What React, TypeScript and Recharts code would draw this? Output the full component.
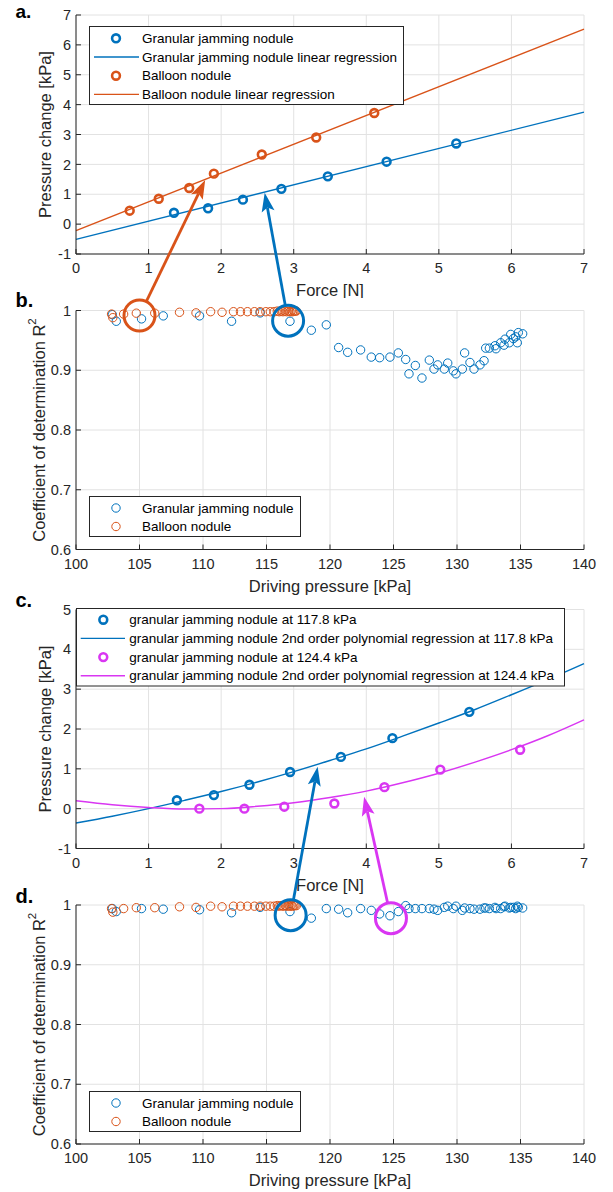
import React from 'react';
import { ComposedChart, Scatter, Line, XAxis, YAxis, CartesianGrid, Legend } from 'recharts';

const BLUE = '#0072BD';
const ORANGE = '#D95319';
const MAGENTA = '#D936F2';
const INK = '#262626';
const GRID = '#e2e2e2';
const FONT = '"Liberation Sans", Arial, Helvetica, sans-serif';

// a. force vs pressure change, linear regression
const forceGranular = [1.35, 1.82, 2.3, 2.83, 3.47, 4.28, 5.24];
const dpGranular = [0.38, 0.53, 0.82, 1.18, 1.6, 2.09, 2.7];
const forceBalloon = [0.74, 1.14, 1.56, 1.9, 2.56, 3.31, 4.11];
const dpBalloon = [0.45, 0.85, 1.21, 1.69, 2.33, 2.9, 3.72];
const fitForce = [0, 7];
const fitGranular = [-0.51, 3.75];
const fitBalloon = [-0.22, 6.53];

// b. / d. coefficient of determination vs driving pressure
const granularPressure = [102.86, 103.17, 105.16, 106.87, 109.73, 112.25, 114.5, 116.85, 118.53, 119.71,
  120.68, 121.39, 122.41, 123.25, 123.91, 124.72, 125.38, 125.96, 126.22, 126.72,
  127.24, 127.82, 128.19, 128.48, 129.0, 129.27, 129.71, 129.92, 130.42, 130.6,
  131.02, 131.34, 131.81, 132.13, 132.26, 132.55, 132.99, 133.07, 133.44, 133.7,
  133.78, 134.12, 134.23, 134.44, 134.62, 134.75, 134.83, 135.17];
const r2GranularLinear = [0.993, 0.982, 0.986, 0.991, 0.991, 0.982, 0.996, 0.982, 0.967, 0.976,
  0.938, 0.93, 0.934, 0.922, 0.921, 0.922, 0.929, 0.918, 0.894, 0.908,
  0.887, 0.917, 0.902, 0.909, 0.902, 0.912, 0.899, 0.894, 0.902, 0.929,
  0.913, 0.902, 0.909, 0.916, 0.937, 0.937, 0.941, 0.936, 0.946, 0.942,
  0.952, 0.946, 0.96, 0.953, 0.956, 0.946, 0.963, 0.961];
const r2GranularPoly = [0.994, 0.989, 0.994, 0.993, 0.992, 0.987, 0.996, 0.989, 0.978, 0.994,
  0.993, 0.987, 0.994, 0.991, 0.985, 0.982, 0.989, 0.999, 0.994, 0.994,
  0.994, 0.994, 0.993, 0.991, 0.996, 0.998, 0.994, 0.998, 0.991, 0.995,
  0.994, 0.993, 0.993, 0.995, 0.995, 0.994, 0.996, 0.994, 0.994, 0.997,
  0.998, 0.995, 0.996, 0.996, 0.994, 0.998, 0.996, 0.995];
const balloonPressure = [102.8, 102.9, 103.75, 104.75, 106.2, 108.15, 109.45, 110.6, 111.5, 112.4,
  112.95, 113.5, 114.05, 114.5, 114.95, 115.3, 115.6, 115.85, 116.0, 116.15,
  116.3, 116.45, 116.6, 116.75, 116.85, 116.95, 117.05, 117.15, 117.25, 117.35];
const r2Balloon = [0.994, 0.988, 0.994, 0.9955, 0.9955, 0.997, 0.996, 0.998, 0.997, 0.998,
  0.998, 0.998, 0.998, 0.998, 0.998, 0.998, 0.998, 0.999, 0.998, 0.999,
  0.998, 0.999, 0.998, 0.999, 0.998, 0.999, 0.998, 0.999, 0.999, 0.999];

// c. force vs pressure change, 2nd order polynomial regression
const force1178 = [1.39, 1.9, 2.39, 2.95, 3.65, 4.36, 5.42];
const dp1178 = [0.21, 0.34, 0.6, 0.92, 1.3, 1.77, 2.43];
const force1244 = [1.7, 2.32, 2.87, 3.56, 4.25, 5.02, 6.12];
const dp1244 = [0.0, 0.0, 0.05, 0.13, 0.54, 0.98, 1.48];
const curveForce = [0, 0.5, 1, 1.5, 2, 2.5, 3, 3.5, 4, 4.5, 5, 5.5, 6, 6.5, 7];
const curve1178 = [-0.36, -0.19, 0.0, 0.21, 0.43, 0.67, 0.93, 1.21, 1.5, 1.82, 2.15, 2.49, 2.86, 3.24, 3.64];
const curve1244 = [0.2, 0.1, 0.03, -0.01, 0.0, 0.06, 0.15, 0.28, 0.44, 0.65, 0.89, 1.17, 1.48, 1.83, 2.23];

const forceTicks = [0, 1, 2, 3, 4, 5, 6, 7];
const pressureTicks = [100, 105, 110, 115, 120, 125, 130, 135, 140];
const dpTicksA = [-1, 0, 1, 2, 3, 4, 5, 6, 7];
const dpTicksC = [-1, 0, 1, 2, 3, 4, 5];
const r2Ticks = [0.6, 0.7, 0.8, 0.9, 1];

const toXY = (xs: number[], ys: number[]) => xs.map((x, i) => ({ x, y: ys[i] }));

// layout
const W = 613;
const PLOT_LEFT = 76;
const PLOT_W = 508;
const PLOT_H = 239;
const XAXIS_H = 40;

type Panel = { top: number; height: number; plotTop: number; x: [number, number]; y: [number, number] };
const panels: Record<string, Panel> = {
  a: { top: 0, height: 298, plotTop: 15, x: [0, 7], y: [-1, 7] },
  b: { top: 298, height: 298, plotTop: 310.5, x: [100, 140], y: [0.6, 1] },
  c: { top: 596, height: 298, plotTop: 609.5, x: [0, 7], y: [-1, 5] },
  d: { top: 894, height: 298, plotTop: 905, x: [100, 140], y: [0.6, 1] },
};

const marginOf = (p: Panel) => ({
  top: p.plotTop - p.top,
  left: 0,
  right: W - PLOT_LEFT - PLOT_W,
  bottom: p.top + p.height - (p.plotTop + PLOT_H) - XAXIS_H,
});

const project = (p: Panel, x: number, y: number) => [
  PLOT_LEFT + ((x - p.x[0]) / (p.x[1] - p.x[0])) * PLOT_W,
  p.plotTop + ((p.y[1] - y) / (p.y[1] - p.y[0])) * PLOT_H,
];

const xTitle = (text: string) => (props: any) => {
  const vb = props.viewBox || {};
  return (
    <text x={vb.x + vb.width / 2} y={vb.y + 36} textAnchor="middle" dominantBaseline="central"
      fontSize={16.5} fill={INK} fontFamily={FONT}>{text}</text>
  );
};

const yTitle = (content: React.ReactNode, cx: number) => (props: any) => {
  const vb = props.viewBox || {};
  const cy = vb.y + vb.height / 2;
  return (
    <text transform={`translate(${cx},${cy}) rotate(-90)`} textAnchor="middle" dominantBaseline="central"
      fontSize={16.5} fill={INK} fontFamily={FONT}>{content}</text>
  );
};

const r2Label = (
  <>
    <tspan>Coefficient of determination R</tspan>
    <tspan dy={-7} fontSize={11.5}>2</tspan>
  </>
);

function frame(p: Panel, xTicks: number[], yTicks: number[], xt: string, yt: React.ReactNode, ytX: number) {
  const tick = { fill: INK, fontSize: 14.5, fontFamily: FONT };
  return [
    <CartesianGrid key="g" xAxisId="b" yAxisId="l" stroke={GRID} strokeWidth={1} />,
    <XAxis key="xb" xAxisId="b" type="number" dataKey="x" domain={p.x} ticks={xTicks} interval={0}
      height={XAXIS_H} tickSize={-5} tickMargin={14} stroke={INK} tick={tick} label={xTitle(xt)} />,
    <XAxis key="xt" xAxisId="t" orientation="top" type="number" domain={p.x} ticks={xTicks} interval={0}
      height={0} tickSize={-5} tick={false} stroke={INK} />,
    <YAxis key="yl" yAxisId="l" type="number" dataKey="y" domain={p.y} ticks={yTicks} interval={0}
      width={PLOT_LEFT} tickSize={-5} tickMargin={10} stroke={INK} tick={tick} label={yTitle(yt, ytX)} />,
    <YAxis key="yr" yAxisId="r" orientation="right" type="number" domain={p.y} ticks={yTicks} interval={0}
      width={0} tickSize={-5} tick={false} stroke={INK} />,
  ];
}

const ring = (color: string, r: number, w: number) => (props: any) => (
  <circle cx={props.cx} cy={props.cy} r={r} fill="none" stroke={color} strokeWidth={w} />
);

type LegendRow = { label: string; color: string; kind: 'ring' | 'thin' | 'line' };
type LegendSpec = {
  left: number; top: number; w: number; h: number; rows: LegendRow[];
  row0: number; step: number; markX: number; lineX0: number; lineX1: number; textX: number;
};

const legendBox = (s: LegendSpec) => () => (
  <svg width={s.w} height={s.h} style={{ display: 'block' }}>
    <rect x={0.5} y={0.5} width={s.w - 1} height={s.h - 1} fill="#fff" stroke={INK} strokeWidth={1} />
    {s.rows.map((r, i) => {
      const cy = s.row0 + i * s.step;
      return (
        <g key={i}>
          {r.kind === 'line' ? (
            <line x1={s.lineX0} x2={s.lineX1} y1={cy} y2={cy} stroke={r.color} strokeWidth={1.4} />
          ) : (
            <circle cx={s.markX} cy={cy} r={r.kind === 'ring' ? 3.9 : 4.2} fill="none" stroke={r.color}
              strokeWidth={r.kind === 'ring' ? 2.6 : 1} />
          )}
          <text x={s.textX} y={cy} dominantBaseline="central" fontSize={13.5} fill="#000" fontFamily={FONT}>
            {r.label}
          </text>
        </g>
      );
    })}
  </svg>
);

const legendEl = (p: Panel, s: LegendSpec) => (
  <Legend layout="vertical" align="center" verticalAlign="middle"
    wrapperStyle={{ left: s.left, top: s.top - p.top, width: s.w, height: s.h }}
    content={legendBox(s)} />
);

const legendA: LegendSpec = {
  left: 88.7, top: 26, w: 315, h: 79, row0: 12.3, step: 18.7, markX: 27, lineX0: 5, lineX1: 50, textX: 53,
  rows: [
    { label: 'Granular jamming nodule', color: BLUE, kind: 'ring' },
    { label: 'Granular jamming nodule linear regression', color: BLUE, kind: 'line' },
    { label: 'Balloon nodule', color: ORANGE, kind: 'ring' },
    { label: 'Balloon nodule linear regression', color: ORANGE, kind: 'line' },
  ],
};
const legendB: LegendSpec = {
  left: 88.7, top: 495.7, w: 212, h: 41, row0: 12, step: 18.5, markX: 27, lineX0: 5, lineX1: 50, textX: 53,
  rows: [
    { label: 'Granular jamming nodule', color: BLUE, kind: 'thin' },
    { label: 'Balloon nodule', color: ORANGE, kind: 'thin' },
  ],
};
const legendC: LegendSpec = {
  left: 76, top: 608.3, w: 489, h: 78.5, row0: 11.7, step: 18.7, markX: 27.3, lineX0: 4.7, lineX1: 49, textX: 53.3,
  rows: [
    { label: 'granular jamming nodule at 117.8 kPa', color: BLUE, kind: 'ring' },
    { label: 'granular jamming nodule 2nd order polynomial regression at 117.8 kPa', color: BLUE, kind: 'line' },
    { label: 'granular jamming nodule at 124.4 kPa', color: MAGENTA, kind: 'ring' },
    { label: 'granular jamming nodule 2nd order polynomial regression at 124.4 kPa', color: MAGENTA, kind: 'line' },
  ],
};
const legendD: LegendSpec = { ...legendB, top: 1091 };

// arrows from the R^2 plots to the fits above
type Callout = { color: string; ring: [string, number, number]; tip: [string, number, number] };
const callouts: Callout[] = [
  { color: ORANGE, ring: ['b', 105, 0.9916], tip: ['a', 1.78, 1.48] },
  { color: BLUE, ring: ['b', 116.7, 0.983], tip: ['a', 2.6, 1.05] },
  { color: BLUE, ring: ['d', 116.9, 0.983], tip: ['c', 3.33, 1.05] },
  { color: MAGENTA, ring: ['d', 124.8, 0.978], tip: ['c', 3.97, 0.3] },
];
const RING_R = 15.5;
const HEAD_L = 19;
const HEAD_W = 6.5;
const NOTCH = 4;

function Arrow({ c }: { c: Callout }) {
  const [cx, cy] = project(panels[c.ring[0]], c.ring[1], c.ring[2]);
  const [tx, ty] = project(panels[c.tip[0]], c.tip[1], c.tip[2]);
  const len = Math.hypot(tx - cx, ty - cy);
  const ux = (tx - cx) / len;
  const uy = (ty - cy) / len;
  const bx = tx - ux * HEAD_L;
  const by = ty - uy * HEAD_L;
  const nx = -uy;
  const ny = ux;
  const head = `${tx},${ty} ${bx + nx * HEAD_W},${by + ny * HEAD_W} ${bx + ux * NOTCH},${by + uy * NOTCH} ${bx - nx * HEAD_W},${by - ny * HEAD_W}`;
  return (
    <g>
      <circle cx={cx} cy={cy} r={RING_R} fill="none" stroke={c.color} strokeWidth={3} />
      <line x1={cx + ux * RING_R} y1={cy + uy * RING_R} x2={bx + ux * NOTCH} y2={by + uy * NOTCH}
        stroke={c.color} strokeWidth={2.8} />
      <polygon points={head} fill={c.color} />
    </g>
  );
}

const panelLabels = [
  { text: 'a.', y: 17.5 },
  { text: 'b.', y: 307 },
  { text: 'c.', y: 606.5 },
  { text: 'd.', y: 902.5 },
];

export default function App() {
  const { a, b, c, d } = panels;
  return (
    <div style={{ position: 'absolute', left: 0, top: 0, width: W, height: 1192, background: '#fff', fontFamily: FONT }}>
      <div style={{ position: 'absolute', left: 0, top: a.top }}>
        <ComposedChart width={W} height={a.height} margin={marginOf(a)}>
          {frame(a, forceTicks, dpTicksA, 'Force [N]', 'Pressure change [kPa]', 44.5)}
          <Line xAxisId="b" yAxisId="l" data={toXY(fitForce, fitGranular)} dataKey="y" type="linear"
            stroke={BLUE} strokeWidth={1.4} dot={false} activeDot={false} isAnimationActive={false} />
          <Line xAxisId="b" yAxisId="l" data={toXY(fitForce, fitBalloon)} dataKey="y" type="linear"
            stroke={ORANGE} strokeWidth={1.4} dot={false} activeDot={false} isAnimationActive={false} />
          <Scatter xAxisId="b" yAxisId="l" data={toXY(forceGranular, dpGranular)} dataKey="y"
            shape={ring(BLUE, 3.9, 2.6)} isAnimationActive={false} />
          <Scatter xAxisId="b" yAxisId="l" data={toXY(forceBalloon, dpBalloon)} dataKey="y"
            shape={ring(ORANGE, 3.9, 2.6)} isAnimationActive={false} />
          {legendEl(a, legendA)}
        </ComposedChart>
      </div>

      <div style={{ position: 'absolute', left: 0, top: b.top }}>
        <ComposedChart width={W} height={b.height} margin={marginOf(b)}>
          {frame(b, pressureTicks, r2Ticks, 'Driving pressure [kPa]', r2Label, 38.5)}
          <Scatter xAxisId="b" yAxisId="l" data={toXY(granularPressure, r2GranularLinear)} dataKey="y"
            shape={ring(BLUE, 4.2, 1)} isAnimationActive={false} />
          <Scatter xAxisId="b" yAxisId="l" data={toXY(balloonPressure, r2Balloon)} dataKey="y"
            shape={ring(ORANGE, 4.2, 1)} isAnimationActive={false} />
          {legendEl(b, legendB)}
        </ComposedChart>
      </div>

      <div style={{ position: 'absolute', left: 0, top: c.top }}>
        <ComposedChart width={W} height={c.height} margin={marginOf(c)}>
          {frame(c, forceTicks, dpTicksC, 'Force [N]', 'Pressure change [kPa]', 44.5)}
          <Line xAxisId="b" yAxisId="l" data={toXY(curveForce, curve1178)} dataKey="y" type="monotone"
            stroke={BLUE} strokeWidth={1.4} dot={false} activeDot={false} isAnimationActive={false} />
          <Line xAxisId="b" yAxisId="l" data={toXY(curveForce, curve1244)} dataKey="y" type="monotone"
            stroke={MAGENTA} strokeWidth={1.4} dot={false} activeDot={false} isAnimationActive={false} />
          <Scatter xAxisId="b" yAxisId="l" data={toXY(force1178, dp1178)} dataKey="y"
            shape={ring(BLUE, 3.9, 2.6)} isAnimationActive={false} />
          <Scatter xAxisId="b" yAxisId="l" data={toXY(force1244, dp1244)} dataKey="y"
            shape={ring(MAGENTA, 3.9, 2.6)} isAnimationActive={false} />
          {legendEl(c, legendC)}
        </ComposedChart>
      </div>

      <div style={{ position: 'absolute', left: 0, top: d.top }}>
        <ComposedChart width={W} height={d.height} margin={marginOf(d)}>
          {frame(d, pressureTicks, r2Ticks, 'Driving pressure [kPa]', r2Label, 38.5)}
          <Scatter xAxisId="b" yAxisId="l" data={toXY(granularPressure, r2GranularPoly)} dataKey="y"
            shape={ring(BLUE, 4.2, 1)} isAnimationActive={false} />
          <Scatter xAxisId="b" yAxisId="l" data={toXY(balloonPressure, r2Balloon)} dataKey="y"
            shape={ring(ORANGE, 4.2, 1)} isAnimationActive={false} />
          {legendEl(d, legendD)}
        </ComposedChart>
      </div>

      <svg width={W} height={1192} style={{ position: 'absolute', left: 0, top: 0, pointerEvents: 'none', zIndex: 10 }}>
        {panelLabels.map((l) => (
          <text key={l.text} x={15.5} y={l.y} fontSize={l.text === 'a.' ? 19 : 20} fontWeight="bold" fill="#000"
            fontFamily={FONT}>
            {l.text}
          </text>
        ))}
        {callouts.map((co, i) => (
          <Arrow key={i} c={co} />
        ))}
      </svg>
    </div>
  );
}
